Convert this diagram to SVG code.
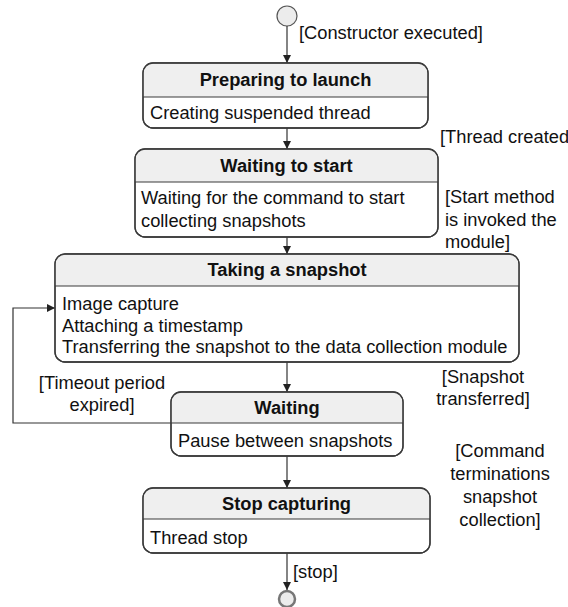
<svg xmlns="http://www.w3.org/2000/svg" width="568" height="607" viewBox="0 0 568 607">
  <style>
    .box { fill: #ffffff; stroke: #3a3a3a; stroke-width: 1.3; }
    .hdr { fill: #efefef; stroke: none; }
    .div { stroke: #3a3a3a; stroke-width: 1.2; }
    .title { font-family: "Liberation Sans", Arial, sans-serif; font-size: 18.3px; font-weight: bold; fill: #111; text-anchor: middle; }
    .txt { font-family: "Liberation Sans", Arial, sans-serif; font-size: 18.3px; fill: #111; }
    .lbl { font-family: "Liberation Sans", Arial, sans-serif; font-size: 18.3px; fill: #111; }
    .mid { text-anchor: middle; }
    .edge { fill: none; stroke: #333; stroke-width: 1.2; marker-end: url(#arrow); }
  </style>
  <defs>
    <marker id="arrow" viewBox="0 0 10 10" refX="10" refY="5" markerWidth="8" markerHeight="8" markerUnits="userSpaceOnUse" orient="auto">
      <path d="M0,0 L10,5 L0,10 Z" fill="#222"/>
    </marker>
  </defs>

  <rect width="568" height="607" fill="#ffffff"/>

  <!-- pseudo states -->
  <g id="initial">
    <circle cx="287" cy="16" r="10" fill="#ececec" stroke="#555" stroke-width="1.2"/>
  </g>
  <g id="final">
    <circle cx="287" cy="599" r="8" fill="#ececec" stroke="#777" stroke-width="2.5"/>
  </g>

  <!-- transitions -->
  <g id="connectors">
    <path class="edge" d="M287,26 V63"/>
    <path class="edge" d="M287,128 V149"/>
    <path class="edge" d="M287,237 V254"/>
    <path class="edge" d="M287,362 V392"/>
    <path class="edge" d="M287,456 V488"/>
    <path class="edge" d="M287,553 V590"/>
    <path class="edge" d="M171,423 H13 V308 H55"/>
  </g>

  <!-- guard labels -->
  <g id="labels">
    <text class="lbl" x="299" y="39">[Constructor executed]</text>
    <text class="lbl" x="440" y="143">[Thread created</text>
    <text class="lbl" x="445" y="203">[Start method</text>
    <text class="lbl" x="445" y="226">is invoked the</text>
    <text class="lbl" x="445" y="248">module]</text>
    <text class="lbl mid" x="102" y="389">[Timeout period</text>
    <text class="lbl mid" x="102" y="411">expired]</text>
    <text class="lbl mid" x="483" y="383">[Snapshot</text>
    <text class="lbl mid" x="483" y="405">transferred]</text>
    <text class="lbl mid" x="500" y="457">[Command</text>
    <text class="lbl mid" x="500" y="480">terminations</text>
    <text class="lbl mid" x="500" y="503">snapshot</text>
    <text class="lbl mid" x="500" y="526">collection]</text>
    <text class="lbl" x="293" y="578">[stop]</text>
  </g>

  <!-- states -->
  <g id="preparing">
    <rect class="box" x="143" y="63" width="285" height="65" rx="10"/>
    <path class="hdr" d="M143.7,97 V73 Q143.7,63.7 153,63.7 H418 Q427.3,63.7 427.3,73 V97 Z"/>
    <line class="div" x1="143" y1="97" x2="428" y2="97"/>
    <rect x="143" y="63" width="285" height="65" rx="10" fill="none" stroke="#3a3a3a" stroke-width="1.3"/>
    <text class="title" x="285.5" y="86">Preparing to launch</text>
    <text class="txt" x="150" y="119">Creating suspended thread</text>
  </g>

  <g id="waiting-start">
    <rect class="box" x="135" y="149" width="303" height="88" rx="10"/>
    <path class="hdr" d="M135.7,182 V159 Q135.7,149.7 145,149.7 H428 Q437.3,149.7 437.3,159 V182 Z"/>
    <line class="div" x1="135" y1="182" x2="438" y2="182"/>
    <rect x="135" y="149" width="303" height="88" rx="10" fill="none" stroke="#3a3a3a" stroke-width="1.3"/>
    <text class="title" x="286.5" y="172">Waiting to start</text>
    <text class="txt" x="141" y="204">Waiting for the command to start</text>
    <text class="txt" x="141" y="227">collecting snapshots</text>
  </g>

  <g id="snapshot">
    <rect class="box" x="55" y="254" width="464" height="108" rx="10"/>
    <path class="hdr" d="M55.7,286 V264 Q55.7,254.7 65,254.7 H509 Q518.3,254.7 518.3,264 V286 Z"/>
    <line class="div" x1="55" y1="286" x2="519" y2="286"/>
    <rect x="55" y="254" width="464" height="108" rx="10" fill="none" stroke="#3a3a3a" stroke-width="1.3"/>
    <text class="title" x="287" y="276">Taking a snapshot</text>
    <text class="txt" x="62" y="310">Image capture</text>
    <text class="txt" x="62" y="332">Attaching a timestamp</text>
    <text class="txt" x="62" y="353">Transferring the snapshot to the data collection module</text>
  </g>

  <g id="waiting">
    <rect class="box" x="171" y="392" width="232" height="64" rx="10"/>
    <path class="hdr" d="M171.7,423 V402 Q171.7,392.7 181,392.7 H393 Q402.3,392.7 402.3,402 V423 Z"/>
    <line class="div" x1="171" y1="423" x2="403" y2="423"/>
    <rect x="171" y="392" width="232" height="64" rx="10" fill="none" stroke="#3a3a3a" stroke-width="1.3"/>
    <text class="title" x="287" y="414">Waiting</text>
    <text class="txt" x="178" y="447">Pause between snapshots</text>
  </g>

  <g id="stop-capturing">
    <rect class="box" x="143" y="488" width="287" height="65" rx="10"/>
    <path class="hdr" d="M143.7,519 V498 Q143.7,488.7 153,488.7 H420 Q429.3,488.7 429.3,498 V519 Z"/>
    <line class="div" x1="143" y1="519" x2="430" y2="519"/>
    <rect x="143" y="488" width="287" height="65" rx="10" fill="none" stroke="#3a3a3a" stroke-width="1.3"/>
    <text class="title" x="286.5" y="510">Stop capturing</text>
    <text class="txt" x="150" y="544">Thread stop</text>
  </g>
</svg>
